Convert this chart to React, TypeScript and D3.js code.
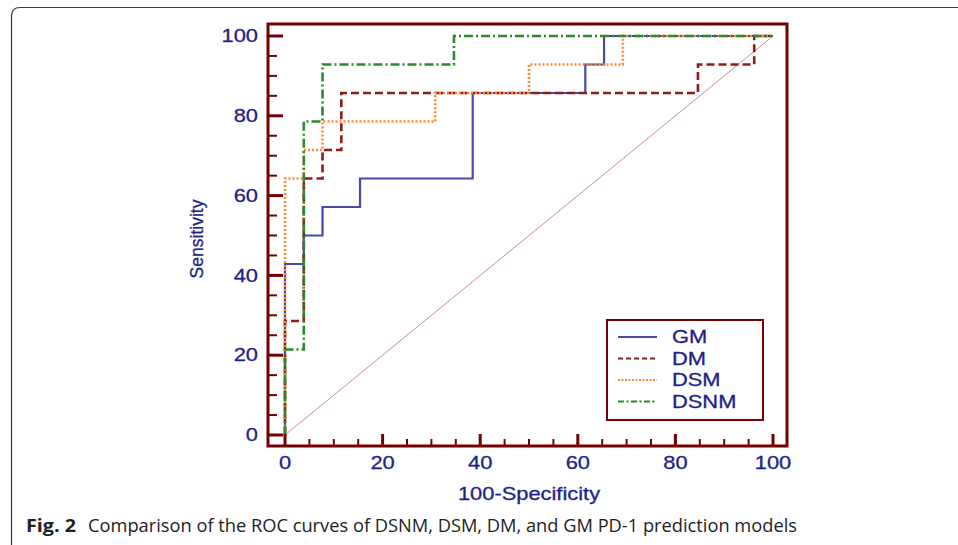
import React from "react";
import * as d3 from "d3";

// ROC operating points (100-specificity, sensitivity), drawn as step curves
const gmFpr = [0, 0, 3.85, 7.69, 15.38, 38.46, 61.54, 65.38, 100];
const gmTpr = [0, 42.86, 50, 57.14, 64.29, 85.71, 92.86, 100, 100];

const dmFpr = [0, 0, 3.85, 7.69, 11.54, 84.62, 96.15, 100];
const dmTpr = [0, 28.57, 64.29, 71.43, 85.71, 92.86, 100, 100];

const dsmFpr = [0, 0, 3.85, 7.69, 30.77, 50, 69.23, 100];
const dsmTpr = [0, 64.29, 71.43, 78.57, 85.71, 92.86, 100, 100];

const dsnmFpr = [0, 0, 3.85, 7.69, 34.62, 100];
const dsnmTpr = [0, 21.43, 78.57, 92.86, 100, 100];

const modelNames = ["GM", "DM", "DSM", "DSNM"];
const tickValues = [0, 20, 40, 60, 80, 100];
const minorTicks = d3.range(0, 101, 5);

const caption = "Comparison of the ROC curves of DSNM, DSM, DM, and GM PD-1 prediction models";

const frameColor = "#730000";
const labelColor = "#1f1f8c";
const seriesStyle = [
  { color: "#4848aa", dash: "", width: 2.2 },
  { color: "#8e1c1c", dash: "8,4", width: 2.6 },
  { color: "#ff8a33", dash: "2,2", width: 2.6 },
  { color: "#2b8a2b", dash: "9,3,2,3", width: 2.6 },
];
const legendDash = ["", "5,3", "2,1.5", "6,2.5,2,2.5"];

const App = () => {
  const x = d3.scaleLinear().domain([0, 100]).range([285, 773]);
  const y = d3.scaleLinear().domain([0, 100]).range([435, 36]);
  const frame = { left: 268, top: 24, right: 787, bottom: 446 };

  const series = [
    d3.zip(gmFpr, gmTpr),
    d3.zip(dmFpr, dmTpr),
    d3.zip(dsmFpr, dsmTpr),
    d3.zip(dsnmFpr, dsnmTpr),
  ];

  const line = d3
    .line<number[]>()
    .x((d) => x(d[0]))
    .y((d) => y(d[1]))
    .curve(d3.curveStepAfter);

  const font = "'Liberation Sans', Arial, sans-serif";
  const sx = 1.25;
  const capFont = "'Liberation Sans Narrow', 'Open Sans', sans-serif";

  return (
    <svg
      width={958}
      height={545}
      style={{ position: "absolute", left: 0, top: 0, background: "#fff" }}
    >
      {/* card border */}
      <path d="M11.5 545 L11.5 16 Q11.5 7.5 20 7.5 L958 7.5" fill="none" stroke="#3a3a3a" strokeWidth={1.2} />

      {/* diagonal reference line */}
      <line x1={x(0)} y1={y(0)} x2={x(100)} y2={y(100)} stroke="#c98f8f" strokeWidth={1} />

      {series.map((pts, i) => (
        <path
          key={modelNames[i]}
          d={line(pts) || ""}
          fill="none"
          stroke={seriesStyle[i].color}
          strokeWidth={seriesStyle[i].width}
          strokeDasharray={seriesStyle[i].dash}
        />
      ))}

      {/* frame */}
      <rect
        x={frame.left}
        y={frame.top}
        width={frame.right - frame.left}
        height={frame.bottom - frame.top}
        fill="none"
        stroke={frameColor}
        strokeWidth={3}
      />

      {/* y ticks */}
      {minorTicks.map((v) => (
        <line
          key={"yt" + v}
          x1={frame.left}
          x2={frame.left + (v % 20 === 0 ? 15 : 9)}
          y1={y(v)}
          y2={y(v)}
          stroke={frameColor}
          strokeWidth={v % 20 === 0 ? 3 : 2}
        />
      ))}
      {/* x ticks */}
      {minorTicks.map((v) => (
        <line
          key={"xt" + v}
          x1={x(v)}
          x2={x(v)}
          y1={frame.bottom}
          y2={frame.bottom - (v % 20 === 0 ? 12 : 7)}
          stroke={frameColor}
          strokeWidth={v % 20 === 0 ? 3 : 2}
        />
      ))}

      {tickValues.map((v) => (
        <text
          key={"yl" + v}
          transform={`translate(258,${y(v)}) scale(${sx},1)`}
          textAnchor="end"
          dominantBaseline="central"
          fontFamily={font}
          fontSize={17.5}
          fill={labelColor}
          stroke={labelColor}
          strokeWidth={0.3}
        >
          {v}
        </text>
      ))}
      {tickValues.map((v) => (
        <text
          key={"xl" + v}
          transform={`translate(${x(v)},463) scale(${sx},1)`}
          textAnchor="middle"
          dominantBaseline="central"
          fontFamily={font}
          fontSize={17.5}
          fill={labelColor}
          stroke={labelColor}
          strokeWidth={0.3}
        >
          {v}
        </text>
      ))}

      <text
        transform="translate(197,239) rotate(-90)"
        textAnchor="middle"
        dominantBaseline="central"
        fontFamily={font}
        fontSize={17.5}
        fill={labelColor}
        stroke={labelColor}
        strokeWidth={0.3}
      >
        Sensitivity
      </text>
      <text
        transform={`translate(529,494) scale(${sx},1)`}
        textAnchor="middle"
        dominantBaseline="central"
        fontFamily={font}
        fontSize={17.5}
        fill={labelColor}
        stroke={labelColor}
        strokeWidth={0.3}
      >
        100-Specificity
      </text>

      {/* legend */}
      <rect x={607} y={320} width={156} height={100} fill="#fff" stroke={frameColor} strokeWidth={2} />
      {modelNames.map((name, i) => {
        const ly = 337 + i * 21.5;
        return (
          <g key={"lg" + name}>
            <line
              x1={618}
              x2={657}
              y1={ly}
              y2={ly}
              stroke={seriesStyle[i].color}
              strokeWidth={1.8}
              strokeDasharray={legendDash[i]}
            />
            <text
              transform={`translate(672,${ly}) scale(${sx},1)`}
              dominantBaseline="central"
              fontFamily={font}
              fontSize={17.5}
              fill={labelColor}
              stroke={labelColor}
              strokeWidth={0.3}
            >
              {name}
            </text>
          </g>
        );
      })}

      {/* caption */}
      <text
        x={26}
        y={532}
        fontFamily={capFont}
        fontWeight="bold"
        fontSize={18}
        fill="#222"
        textLength={50}
        lengthAdjust="spacingAndGlyphs"
      >
        Fig. 2
      </text>
      <text
        x={88}
        y={532}
        fontFamily={capFont}
        fontSize={18}
        fill="#222"
        textLength={709}
        lengthAdjust="spacingAndGlyphs"
      >
        {caption}
      </text>
    </svg>
  );
};

export default App;
